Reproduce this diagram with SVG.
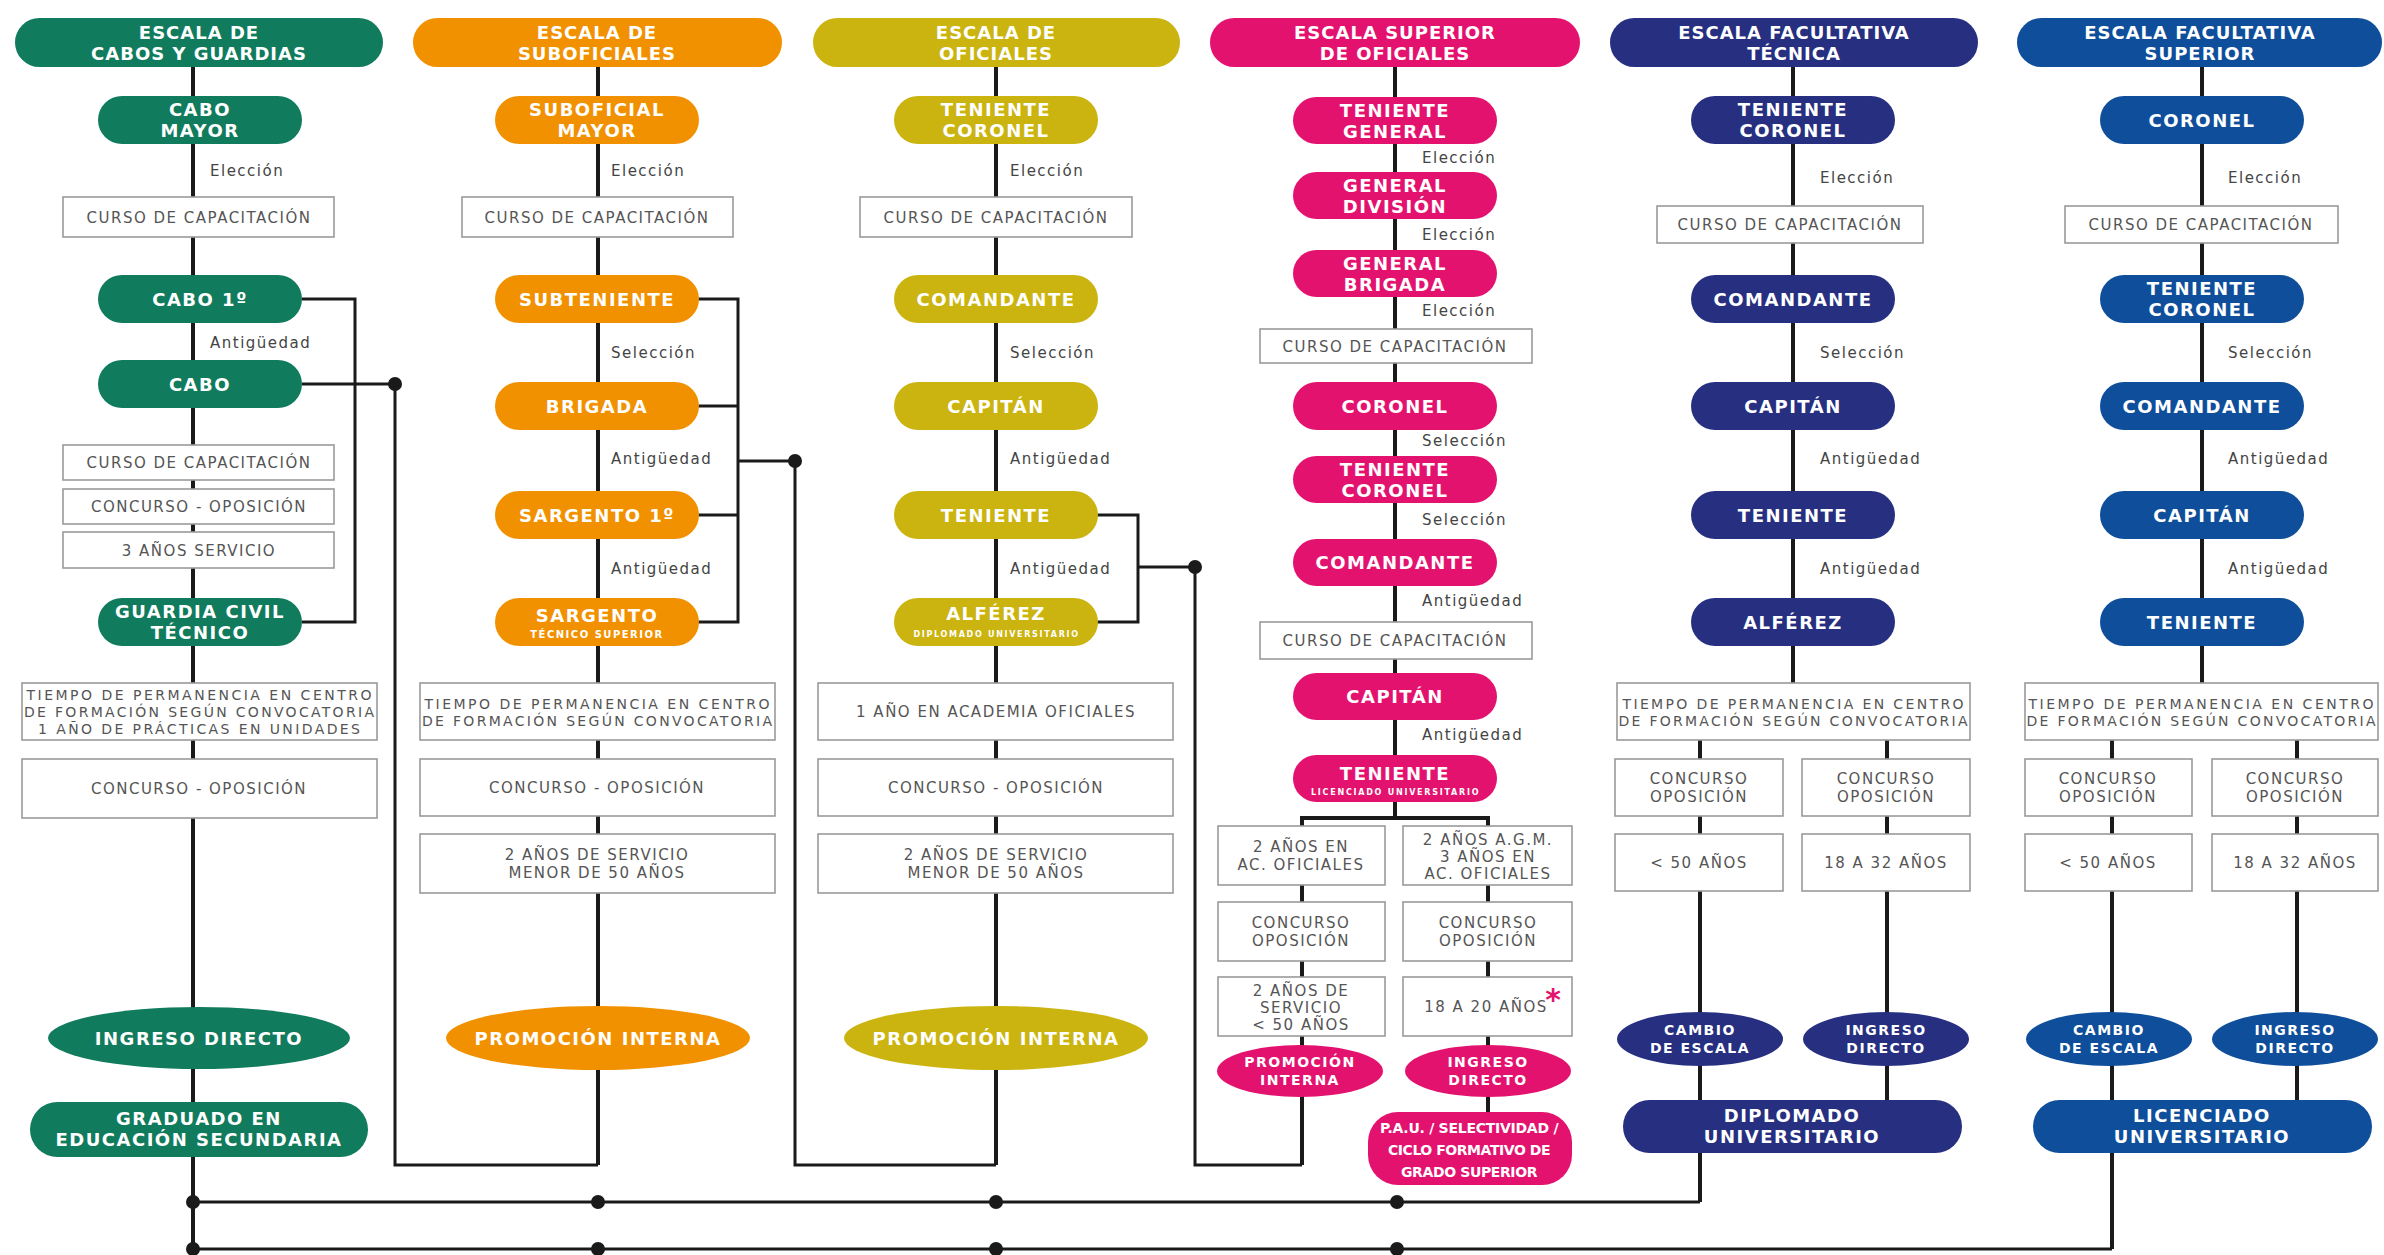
<svg xmlns="http://www.w3.org/2000/svg" width="2384" height="1255" viewBox="0 0 2384 1255">
<style>
.ln{stroke:#1a1a1a;stroke-width:4;fill:none}
.br{stroke:#1a1a1a;stroke-width:3;fill:none}
.dot{fill:#1a1a1a}
.box{fill:#fff;stroke:#9a9a9a;stroke-width:1.6}
.g{fill:#117b5d}.o{fill:#f29100}.y{fill:#cbb40f}.p{fill:#e4126f}.n{fill:#262f80}.b{fill:#0e4e9b}
.t{font-family:"DejaVu Sans","Liberation Sans",sans-serif;font-weight:bold;font-size:18px;fill:#fff;text-anchor:middle;letter-spacing:1.5px}
.h{letter-spacing:1px}
.sm{font-size:14px}
.xs{font-size:8px;letter-spacing:0.5px}
.st{font-size:10px;letter-spacing:1.5px}
.bx{font-family:"DejaVu Sans","Liberation Sans",sans-serif;font-size:15px;fill:#555;text-anchor:middle;letter-spacing:1.5px}
.tm{font-size:14px;letter-spacing:0}
.lb{font-family:"DejaVu Sans","Liberation Sans",sans-serif;font-size:15px;fill:#444;letter-spacing:1.5px}
.ast{font-family:"DejaVu Sans",sans-serif;font-weight:bold;font-size:30px;fill:#e4126f;text-anchor:middle}
</style>
<rect width="2384" height="1255" fill="#fff"/>

<g id="connectors">
  <path class="ln" d="M193,67 V1249"/>
  <path class="ln" d="M598,67 V1165"/>
  <path class="ln" d="M996,67 V1165"/>
  <path class="ln" d="M1395,67 V818"/>
  <path class="ln" d="M1793,67 V740"/>
  <path class="ln" d="M2202,67 V740"/>
  <path class="br" d="M302,299 H355 V622 H302"/>
  <path class="br" d="M302,384 H395 V1165 H598"/>
  <path class="br" d="M697,299 H738 V622 H697 M697,406 H738 M697,515 H738"/>
  <path class="br" d="M738,461 H795 V1165 H996"/>
  <path class="br" d="M1097,515 H1138 V622 H1097"/>
  <path class="br" d="M1138,567 H1195 V1165 H1302"/>
  <path class="ln" d="M1302,1165 V818 H1488 V1114"/>
  <path class="ln" d="M1700,740 V1202"/>
  <path class="br" d="M1700,1202 H193"/>
  <path class="ln" d="M1887,740 V1102"/>
  <path class="ln" d="M2112,740 V1249"/>
  <path class="br" d="M2112,1249 H193"/>
  <path class="ln" d="M2297,740 V1102"/>
  <circle class="dot" cx="395" cy="384" r="7"/>
  <circle class="dot" cx="795" cy="461" r="7"/>
  <circle class="dot" cx="1195" cy="567" r="7"/>
  <circle class="dot" cx="193" cy="1202" r="7"/>
  <circle class="dot" cx="598" cy="1202" r="7"/>
  <circle class="dot" cx="996" cy="1202" r="7"/>
  <circle class="dot" cx="1397" cy="1202" r="7"/>
  <circle class="dot" cx="193" cy="1249" r="7"/>
  <circle class="dot" cx="598" cy="1249" r="7"/>
  <circle class="dot" cx="996" cy="1249" r="7"/>
  <circle class="dot" cx="1397" cy="1249" r="7"/>
</g>

<g id="labels">
  <text class="lb" x="210" y="176">Elección</text>
  <text class="lb" x="210" y="348">Antigüedad</text>
  <text class="lb" x="611" y="176">Elección</text>
  <text class="lb" x="611" y="358">Selección</text>
  <text class="lb" x="611" y="464">Antigüedad</text>
  <text class="lb" x="611" y="574">Antigüedad</text>
  <text class="lb" x="1010" y="176">Elección</text>
  <text class="lb" x="1010" y="358">Selección</text>
  <text class="lb" x="1010" y="464">Antigüedad</text>
  <text class="lb" x="1010" y="574">Antigüedad</text>
  <text class="lb" x="1422" y="163">Elección</text>
  <text class="lb" x="1422" y="240">Elección</text>
  <text class="lb" x="1422" y="316">Elección</text>
  <text class="lb" x="1422" y="446">Selección</text>
  <text class="lb" x="1422" y="525">Selección</text>
  <text class="lb" x="1422" y="606">Antigüedad</text>
  <text class="lb" x="1422" y="740">Antigüedad</text>
  <text class="lb" x="1820" y="183">Elección</text>
  <text class="lb" x="1820" y="358">Selección</text>
  <text class="lb" x="1820" y="464">Antigüedad</text>
  <text class="lb" x="1820" y="574">Antigüedad</text>
  <text class="lb" x="2228" y="183">Elección</text>
  <text class="lb" x="2228" y="358">Selección</text>
  <text class="lb" x="2228" y="464">Antigüedad</text>
  <text class="lb" x="2228" y="574">Antigüedad</text>
</g>

<!-- Column 1 -->
<g id="c1-header"><rect class="g" x="15" y="18" width="368" height="49" rx="24.5"/><text class="t h" x="199" y="38.5">ESCALA DE</text><text class="t h" x="199" y="59.5">CABOS Y GUARDIAS</text></g>
<g id="c1-cabo-mayor"><rect class="g" x="98" y="96" width="204" height="48" rx="24"/><text class="t" x="200" y="116">CABO</text><text class="t" x="200" y="137">MAYOR</text></g>
<g id="c1-curso1"><rect class="box" x="63" y="197" width="271" height="40"/><text class="bx" x="199" y="222.5">CURSO DE CAPACITACIÓN</text></g>
<g id="c1-cabo1"><rect class="g" x="98" y="275" width="204" height="48" rx="24"/><text class="t" x="200" y="305.5">CABO 1º</text></g>
<g id="c1-cabo"><rect class="g" x="98" y="360" width="204" height="48" rx="24"/><text class="t" x="200" y="390.5">CABO</text></g>
<g id="c1-curso2"><rect class="box" x="63" y="445" width="271" height="35"/><text class="bx" x="199" y="468">CURSO DE CAPACITACIÓN</text></g>
<g id="c1-concurso1"><rect class="box" x="63" y="489" width="271" height="35"/><text class="bx" x="199" y="512">CONCURSO - OPOSICIÓN</text></g>
<g id="c1-servicio"><rect class="box" x="63" y="532" width="271" height="36"/><text class="bx" x="199" y="555.5">3 AÑOS SERVICIO</text></g>
<g id="c1-guardia"><rect class="g" x="98" y="598" width="204" height="48" rx="24"/><text class="t" x="200" y="618">GUARDIA CIVIL</text><text class="t" x="200" y="639">TÉCNICO</text></g>
<g id="c1-tiempo"><rect class="box" x="22" y="683" width="355" height="57"/>
<text class="bx tm" x="199" y="700" textLength="345">TIEMPO DE PERMANENCIA EN CENTRO</text>
<text class="bx tm" x="199" y="717" textLength="350">DE FORMACIÓN SEGÚN CONVOCATORIA</text>
<text class="bx tm" x="199" y="734" textLength="322">1 AÑO DE PRÁCTICAS EN UNIDADES</text></g>
<g id="c1-concurso2"><rect class="box" x="22" y="759" width="355" height="59"/><text class="bx" x="199" y="794">CONCURSO - OPOSICIÓN</text></g>
<g id="c1-ingreso"><ellipse class="g" cx="199" cy="1038" rx="151" ry="31"/><text class="t" x="199" y="1044.5">INGRESO DIRECTO</text></g>
<g id="c1-graduado"><rect class="g" x="30" y="1102" width="338" height="55" rx="27.5"/><text class="t" x="199" y="1125">GRADUADO EN</text><text class="t" x="199" y="1146">EDUCACIÓN SECUNDARIA</text></g>

<!-- Column 2 -->
<g id="c2-header"><rect class="o" x="413" y="18" width="369" height="49" rx="24.5"/><text class="t h" x="597" y="38.5">ESCALA DE</text><text class="t h" x="597" y="59.5">SUBOFICIALES</text></g>
<g id="c2-suboficial-mayor"><rect class="o" x="495" y="96" width="204" height="48" rx="24"/><text class="t" x="597" y="116">SUBOFICIAL</text><text class="t" x="597" y="137">MAYOR</text></g>
<g id="c2-curso"><rect class="box" x="462" y="197" width="271" height="40"/><text class="bx" x="597" y="222.5">CURSO DE CAPACITACIÓN</text></g>
<g id="c2-subteniente"><rect class="o" x="495" y="275" width="204" height="48" rx="24"/><text class="t" x="597" y="305.5">SUBTENIENTE</text></g>
<g id="c2-brigada"><rect class="o" x="495" y="382" width="204" height="48" rx="24"/><text class="t" x="597" y="412.5">BRIGADA</text></g>
<g id="c2-sargento1"><rect class="o" x="495" y="491" width="204" height="48" rx="24"/><text class="t" x="597" y="521.5">SARGENTO 1º</text></g>
<g id="c2-sargento"><rect class="o" x="495" y="598" width="204" height="48" rx="24"/><text class="t" x="597" y="622">SARGENTO</text><text class="t st" x="597" y="638">TÉCNICO SUPERIOR</text></g>
<g id="c2-tiempo"><rect class="box" x="420" y="683" width="355" height="57"/>
<text class="bx tm" x="597" y="709" textLength="345">TIEMPO DE PERMANENCIA EN CENTRO</text>
<text class="bx tm" x="597" y="726" textLength="350">DE FORMACIÓN SEGÚN CONVOCATORIA</text></g>
<g id="c2-concurso"><rect class="box" x="420" y="759" width="355" height="57"/><text class="bx" x="597" y="793">CONCURSO - OPOSICIÓN</text></g>
<g id="c2-servicio"><rect class="box" x="420" y="834" width="355" height="59"/><text class="bx" x="597" y="860">2 AÑOS DE SERVICIO</text><text class="bx" x="597" y="878">MENOR DE 50 AÑOS</text></g>
<g id="c2-promocion"><ellipse class="o" cx="598" cy="1038" rx="152" ry="32"/><text class="t" x="598" y="1044.5">PROMOCIÓN INTERNA</text></g>

<!-- Column 3 -->
<g id="c3-header"><rect class="y" x="813" y="18" width="367" height="49" rx="24.5"/><text class="t h" x="996" y="38.5">ESCALA DE</text><text class="t h" x="996" y="59.5">OFICIALES</text></g>
<g id="c3-teniente-coronel"><rect class="y" x="894" y="96" width="204" height="48" rx="24"/><text class="t" x="996" y="116">TENIENTE</text><text class="t" x="996" y="137">CORONEL</text></g>
<g id="c3-curso"><rect class="box" x="860" y="197" width="272" height="40"/><text class="bx" x="996" y="222.5">CURSO DE CAPACITACIÓN</text></g>
<g id="c3-comandante"><rect class="y" x="894" y="275" width="204" height="48" rx="24"/><text class="t" x="996" y="305.5">COMANDANTE</text></g>
<g id="c3-capitan"><rect class="y" x="894" y="382" width="204" height="48" rx="24"/><text class="t" x="996" y="412.5">CAPITÁN</text></g>
<g id="c3-teniente"><rect class="y" x="894" y="491" width="204" height="48" rx="24"/><text class="t" x="996" y="521.5">TENIENTE</text></g>
<g id="c3-alferez"><rect class="y" x="894" y="598" width="204" height="48" rx="24"/><text class="t" x="996" y="620">ALFÉREZ</text><text class="t xs" x="996" y="637" textLength="165">DIPLOMADO UNIVERSITARIO</text></g>
<g id="c3-academia"><rect class="box" x="818" y="683" width="355" height="57"/><text class="bx" x="996" y="717">1 AÑO EN ACADEMIA OFICIALES</text></g>
<g id="c3-concurso"><rect class="box" x="818" y="759" width="355" height="57"/><text class="bx" x="996" y="793">CONCURSO - OPOSICIÓN</text></g>
<g id="c3-servicio"><rect class="box" x="818" y="834" width="355" height="59"/><text class="bx" x="996" y="860">2 AÑOS DE SERVICIO</text><text class="bx" x="996" y="878">MENOR DE 50 AÑOS</text></g>
<g id="c3-promocion"><ellipse class="y" cx="996" cy="1038" rx="152" ry="32"/><text class="t" x="996" y="1044.5">PROMOCIÓN INTERNA</text></g>

<!-- Column 4 -->
<g id="c4-header"><rect class="p" x="1210" y="18" width="370" height="49" rx="24.5"/><text class="t h" x="1395" y="38.5">ESCALA SUPERIOR</text><text class="t h" x="1395" y="59.5">DE OFICIALES</text></g>
<g id="c4-teniente-general"><rect class="p" x="1293" y="97" width="204" height="47" rx="23.5"/><text class="t" x="1395" y="116.5">TENIENTE</text><text class="t" x="1395" y="137.5">GENERAL</text></g>
<g id="c4-general-division"><rect class="p" x="1293" y="172" width="204" height="47" rx="23.5"/><text class="t" x="1395" y="191.5">GENERAL</text><text class="t" x="1395" y="212.5">DIVISIÓN</text></g>
<g id="c4-general-brigada"><rect class="p" x="1293" y="250" width="204" height="47" rx="23.5"/><text class="t" x="1395" y="269.5">GENERAL</text><text class="t" x="1395" y="290.5">BRIGADA</text></g>
<g id="c4-curso1"><rect class="box" x="1260" y="329" width="272" height="34"/><text class="bx" x="1395" y="351.5">CURSO DE CAPACITACIÓN</text></g>
<g id="c4-coronel"><rect class="p" x="1293" y="382" width="204" height="48" rx="24"/><text class="t" x="1395" y="412.5">CORONEL</text></g>
<g id="c4-teniente-coronel"><rect class="p" x="1293" y="456" width="204" height="47" rx="23.5"/><text class="t" x="1395" y="475.5">TENIENTE</text><text class="t" x="1395" y="496.5">CORONEL</text></g>
<g id="c4-comandante"><rect class="p" x="1293" y="539" width="204" height="47" rx="23.5"/><text class="t" x="1395" y="569">COMANDANTE</text></g>
<g id="c4-curso2"><rect class="box" x="1260" y="622" width="272" height="37"/><text class="bx" x="1395" y="646">CURSO DE CAPACITACIÓN</text></g>
<g id="c4-capitan"><rect class="p" x="1293" y="673" width="204" height="47" rx="23.5"/><text class="t" x="1395" y="703">CAPITÁN</text></g>
<g id="c4-teniente"><rect class="p" x="1293" y="755" width="204" height="47" rx="23.5"/><text class="t" x="1395" y="780">TENIENTE</text><text class="t xs" x="1395" y="795" textLength="168">LICENCIADO UNIVERSITARIO</text></g>
<g id="c4-ac-oficiales"><rect class="box" x="1218" y="826" width="167" height="59"/><text class="bx" x="1301" y="852">2 AÑOS EN</text><text class="bx" x="1301" y="870">AC. OFICIALES</text></g>
<g id="c4-agm"><rect class="box" x="1403" y="826" width="169" height="59"/><text class="bx" x="1488" y="845">2 AÑOS A.G.M.</text><text class="bx" x="1488" y="862">3 AÑOS EN</text><text class="bx" x="1488" y="879">AC. OFICIALES</text></g>
<g id="c4-concurso-l"><rect class="box" x="1218" y="902" width="167" height="59"/><text class="bx" x="1301" y="928">CONCURSO</text><text class="bx" x="1301" y="946">OPOSICIÓN</text></g>
<g id="c4-concurso-r"><rect class="box" x="1403" y="902" width="169" height="59"/><text class="bx" x="1488" y="928">CONCURSO</text><text class="bx" x="1488" y="946">OPOSICIÓN</text></g>
<g id="c4-servicio"><rect class="box" x="1218" y="977" width="167" height="59"/><text class="bx" x="1301" y="996">2 AÑOS DE</text><text class="bx" x="1301" y="1013">SERVICIO</text><text class="bx" x="1301" y="1030">&lt; 50 AÑOS</text></g>
<g id="c4-edad"><rect class="box" x="1403" y="977" width="169" height="59"/><text class="bx" x="1486" y="1012">18 A 20 AÑOS</text><text class="ast" x="1553" y="1010">*</text></g>
<g id="c4-promocion"><ellipse class="p" cx="1300" cy="1071" rx="83" ry="26"/><text class="t sm" x="1300" y="1067">PROMOCIÓN</text><text class="t sm" x="1300" y="1085">INTERNA</text></g>
<g id="c4-ingreso"><ellipse class="p" cx="1488" cy="1071" rx="83" ry="26"/><text class="t sm" x="1488" y="1067">INGRESO</text><text class="t sm" x="1488" y="1085">DIRECTO</text></g>
<g id="c4-pau"><rect class="p" x="1368" y="1112" width="204" height="73" rx="30"/>
<text class="t sm" x="1470" y="1133" textLength="180">P.A.U. / SELECTIVIDAD /</text>
<text class="t sm" x="1470" y="1155" textLength="164">CICLO FORMATIVO DE</text>
<text class="t sm" x="1470" y="1177" textLength="138">GRADO SUPERIOR</text></g>

<!-- Column 5 -->
<g id="c5-header"><rect class="n" x="1610" y="18" width="368" height="49" rx="24.5"/><text class="t h" x="1794" y="38.5">ESCALA FACULTATIVA</text><text class="t h" x="1794" y="59.5">TÉCNICA</text></g>
<g id="c5-teniente-coronel"><rect class="n" x="1691" y="96" width="204" height="48" rx="24"/><text class="t" x="1793" y="116">TENIENTE</text><text class="t" x="1793" y="137">CORONEL</text></g>
<g id="c5-curso"><rect class="box" x="1657" y="206" width="266" height="37"/><text class="bx" x="1790" y="230">CURSO DE CAPACITACIÓN</text></g>
<g id="c5-comandante"><rect class="n" x="1691" y="275" width="204" height="48" rx="24"/><text class="t" x="1793" y="305.5">COMANDANTE</text></g>
<g id="c5-capitan"><rect class="n" x="1691" y="382" width="204" height="48" rx="24"/><text class="t" x="1793" y="412.5">CAPITÁN</text></g>
<g id="c5-teniente"><rect class="n" x="1691" y="491" width="204" height="48" rx="24"/><text class="t" x="1793" y="521.5">TENIENTE</text></g>
<g id="c5-alferez"><rect class="n" x="1691" y="598" width="204" height="48" rx="24"/><text class="t" x="1793" y="628.5">ALFÉREZ</text></g>
<g id="c5-tiempo"><rect class="box" x="1617" y="683" width="353" height="57"/>
<text class="bx tm" x="1793" y="709" textLength="341">TIEMPO DE PERMANENCIA EN CENTRO</text>
<text class="bx tm" x="1793" y="726" textLength="349">DE FORMACIÓN SEGÚN CONVOCATORIA</text></g>
<g id="c5-concurso-l"><rect class="box" x="1615" y="759" width="168" height="57"/><text class="bx" x="1699" y="784">CONCURSO</text><text class="bx" x="1699" y="802">OPOSICIÓN</text></g>
<g id="c5-concurso-r"><rect class="box" x="1802" y="759" width="168" height="57"/><text class="bx" x="1886" y="784">CONCURSO</text><text class="bx" x="1886" y="802">OPOSICIÓN</text></g>
<g id="c5-edad-l"><rect class="box" x="1615" y="834" width="168" height="57"/><text class="bx" x="1699" y="868">&lt; 50 AÑOS</text></g>
<g id="c5-edad-r"><rect class="box" x="1802" y="834" width="168" height="57"/><text class="bx" x="1886" y="868">18 A 32 AÑOS</text></g>
<g id="c5-cambio"><ellipse class="n" cx="1700" cy="1039" rx="83" ry="27"/><text class="t sm" x="1700" y="1035">CAMBIO</text><text class="t sm" x="1700" y="1053">DE ESCALA</text></g>
<g id="c5-ingreso"><ellipse class="n" cx="1886" cy="1039" rx="83" ry="27"/><text class="t sm" x="1886" y="1035">INGRESO</text><text class="t sm" x="1886" y="1053">DIRECTO</text></g>
<g id="c5-diplomado"><rect class="n" x="1623" y="1100" width="339" height="53" rx="26.5"/><text class="t" x="1792" y="1122">DIPLOMADO</text><text class="t" x="1792" y="1143">UNIVERSITARIO</text></g>

<!-- Column 6 -->
<g id="c6-header"><rect class="b" x="2017" y="18" width="365" height="49" rx="24.5"/><text class="t h" x="2200" y="38.5">ESCALA FACULTATIVA</text><text class="t h" x="2200" y="59.5">SUPERIOR</text></g>
<g id="c6-coronel"><rect class="b" x="2100" y="96" width="204" height="48" rx="24"/><text class="t" x="2202" y="126.5">CORONEL</text></g>
<g id="c6-curso"><rect class="box" x="2065" y="206" width="273" height="37"/><text class="bx" x="2201" y="230">CURSO DE CAPACITACIÓN</text></g>
<g id="c6-teniente-coronel"><rect class="b" x="2100" y="275" width="204" height="48" rx="24"/><text class="t" x="2202" y="295">TENIENTE</text><text class="t" x="2202" y="316">CORONEL</text></g>
<g id="c6-comandante"><rect class="b" x="2100" y="382" width="204" height="48" rx="24"/><text class="t" x="2202" y="412.5">COMANDANTE</text></g>
<g id="c6-capitan"><rect class="b" x="2100" y="491" width="204" height="48" rx="24"/><text class="t" x="2202" y="521.5">CAPITÁN</text></g>
<g id="c6-teniente"><rect class="b" x="2100" y="598" width="204" height="48" rx="24"/><text class="t" x="2202" y="628.5">TENIENTE</text></g>
<g id="c6-tiempo"><rect class="box" x="2025" y="683" width="353" height="57"/>
<text class="bx tm" x="2201" y="709" textLength="345">TIEMPO DE PERMANENCIA EN CENTRO</text>
<text class="bx tm" x="2201" y="726" textLength="349">DE FORMACIÓN SEGÚN CONVOCATORIA</text></g>
<g id="c6-concurso-l"><rect class="box" x="2025" y="759" width="167" height="57"/><text class="bx" x="2108" y="784">CONCURSO</text><text class="bx" x="2108" y="802">OPOSICIÓN</text></g>
<g id="c6-concurso-r"><rect class="box" x="2212" y="759" width="166" height="57"/><text class="bx" x="2295" y="784">CONCURSO</text><text class="bx" x="2295" y="802">OPOSICIÓN</text></g>
<g id="c6-edad-l"><rect class="box" x="2025" y="834" width="167" height="57"/><text class="bx" x="2108" y="868">&lt; 50 AÑOS</text></g>
<g id="c6-edad-r"><rect class="box" x="2212" y="834" width="166" height="57"/><text class="bx" x="2295" y="868">18 A 32 AÑOS</text></g>
<g id="c6-cambio"><ellipse class="b" cx="2109" cy="1039" rx="83" ry="27"/><text class="t sm" x="2109" y="1035">CAMBIO</text><text class="t sm" x="2109" y="1053">DE ESCALA</text></g>
<g id="c6-ingreso"><ellipse class="b" cx="2295" cy="1039" rx="83" ry="27"/><text class="t sm" x="2295" y="1035">INGRESO</text><text class="t sm" x="2295" y="1053">DIRECTO</text></g>
<g id="c6-licenciado"><rect class="b" x="2033" y="1100" width="339" height="53" rx="26.5"/><text class="t" x="2202" y="1122">LICENCIADO</text><text class="t" x="2202" y="1143">UNIVERSITARIO</text></g>
</svg>
